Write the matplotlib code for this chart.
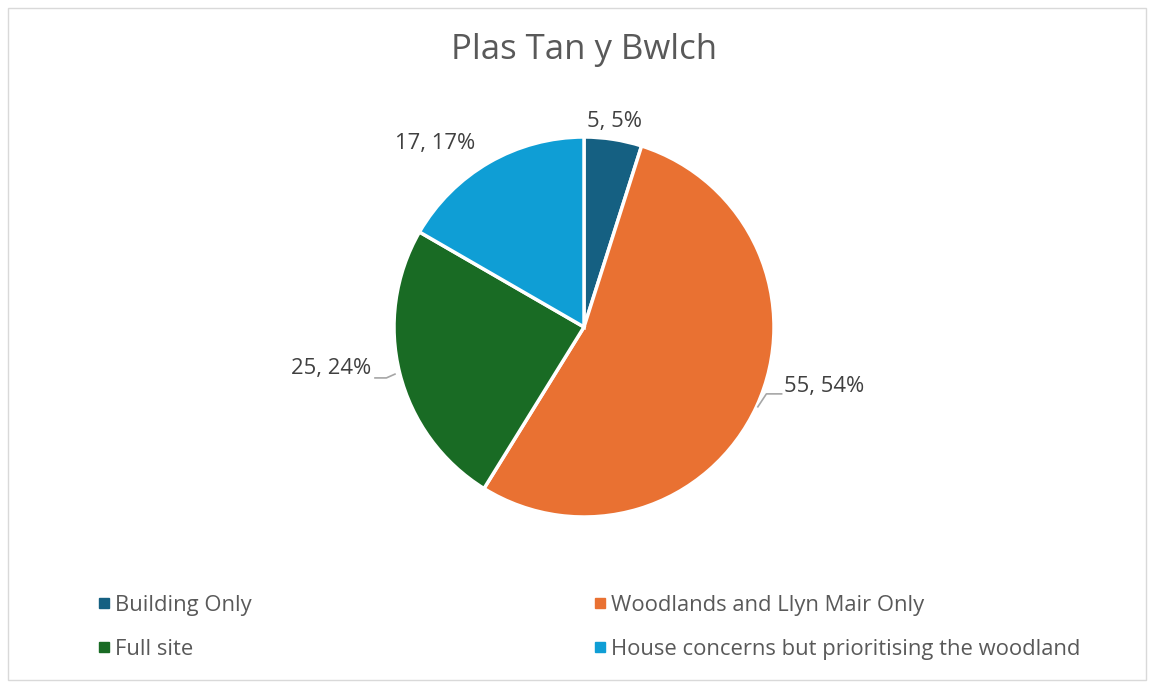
import matplotlib.pyplot as plt
from matplotlib.patches import Rectangle
from matplotlib.lines import Line2D

plt.rcParams['font.family'] = ['Open Sans', 'DejaVu Sans']

# Data
categories = ["Building Only", "Woodlands and Llyn Mair Only", "Full site",
              "House concerns but prioritising the woodland"]
counts = [5, 55, 25, 17]
percents = [5, 54, 24, 17]
colors = ["#156082", "#E97132", "#196B24", "#0F9ED5"]
# label anchor positions (in pie-radius units) and alignment
label_pos = [(0.163, 1.084, 'center'), (1.05, -0.311, 'left'),
             (-1.12, -0.221, 'right'), (-0.784, 0.968, 'center')]

fig = plt.figure(figsize=(11.52, 6.84), dpi=100)
R = 190  # pie radius in px
k = 1.5
ax = fig.add_axes([(584 - k * R) / 1152, (684 - 327 - k * R) / 684,
                   2 * k * R / 1152, 2 * k * R / 684])
ax.pie(counts, colors=colors, startangle=90, counterclock=False,
       wedgeprops=dict(edgecolor="white", linewidth=2.5))
ax.set_xlim(-k, k)
ax.set_ylim(-k, k)
ax.set_aspect("equal")
ax.axis("off")

for c, p, (x, y, ha) in zip(counts, percents, label_pos):
    ax.text(x, y, "{}, {}%".format(c, p), ha=ha, va="center",
            fontsize=15.8, color="#404040")

# leader lines
ax.plot([0.915, 0.96, 1.04], [-0.42, -0.352, -0.352], color="#A6A6A6", lw=1.2)
ax.plot([-1.1, -1.04, -0.995], [-0.268, -0.268, -0.248], color="#A6A6A6", lw=1.2)

fig.text(584 / 1152, 1 - 50 / 684, "Plas Tan y Bwlch", ha="center", va="center",
         fontsize=25, color="#595959")

# legend (row-major order via column-major fill)
order = [0, 2, 1, 3]
handles = [Line2D([], [], marker="s", linestyle="none", markersize=7,
                  color=colors[i]) for i in order]
fig.legend(handles, [categories[i] for i in order], ncol=2,
           loc="upper left", bbox_to_anchor=(89 / 1152, 1 - 586 / 684),
           frameon=False, fontsize=15.8, labelcolor="#595959",
           handlelength=0.6, handletextpad=0.2, columnspacing=15.57,
           labelspacing=1.05, borderaxespad=0)

fig.patches.append(Rectangle((8 / 1152, 4 / 684), 1138 / 1152, 672 / 684,
                             transform=fig.transFigure, fill=False,
                             edgecolor="#D9D9D9", lw=1))

fig.savefig("out.png", dpi=100)
